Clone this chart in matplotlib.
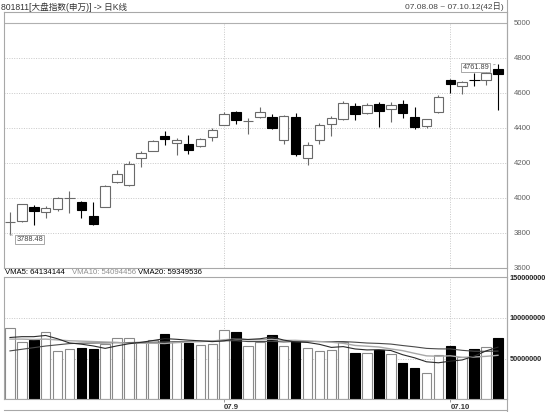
import numpy as np
import matplotlib
matplotlib.use("Agg")
from matplotlib import pyplot as plt

plt.rcParams['font.family'] = ['Liberation Sans', 'Noto Sans CJK SC', 'DejaVu Sans']

# daily candles 07.08.08 - 07.10.12
opens = [3860, 3866, 3947, 3919, 3933, 3996, 3973, 3896, 3947, 4090,
         4071, 4224, 4267, 4353, 4310, 4304, 4296, 4347, 4414, 4487,
         4437, 4462, 4462, 4329, 4462, 4227, 4329, 4418, 4447, 4525,
         4481, 4534, 4506, 4533, 4462, 4409, 4490, 4671, 4639, 4673,
         4671, 4732]
highs = [3919, 3965, 3957, 3951, 4005, 4037, 3982, 3976, 4071, 4157,
         4210, 4266, 4330, 4382, 4342, 4357, 4340, 4395, 4490, 4496,
         4453, 4519, 4479, 4471, 4481, 4319, 4424, 4466, 4550, 4538,
         4538, 4547, 4547, 4557, 4515, 4447, 4584, 4675, 4667, 4710,
         4735, 4761.89]
lows = [3788.48, 3862, 3843, 3881, 3925, 3913, 3885, 3843, 3945, 4081,
        4066, 4173, 4265, 4300, 4243, 4247, 4287, 4325, 4412, 4418,
        4361, 4453, 4390, 4304, 4239, 4186, 4305, 4353, 4445, 4443,
        4478, 4404, 4433, 4456, 4390, 4396, 4485, 4599, 4590, 4637,
        4643, 4500]
closes = [3864, 3961, 3923, 3938, 3995, 3999, 3929, 3847, 4067, 4134,
          4191, 4252, 4325, 4333, 4329, 4271, 4333, 4386, 4475, 4443,
          4440, 4487, 4395, 4467, 4249, 4300, 4414, 4453, 4542, 4477,
          4529, 4494, 4529, 4481, 4404, 4447, 4576, 4647, 4658, 4669,
          4713, 4704]

# volume in millions
volume = [87.1, 69.9, 72.7, 82.9, 59.2, 61.7, 62.5, 61.7, 67.8, 74.8,
          74.8, 70.7, 72.7, 80.1, 70.7, 69.5, 66.6, 67.8, 85.0, 82.9,
          65.8, 70.7, 78.9, 65.8, 71.5, 62.5, 59.2, 60.1, 70.7, 57.2,
          56.4, 60.5, 55.2, 44.9, 38.0, 31.9, 54.5, 65.4, 52.3, 61.3,
          63.8, 74.8]
vma5 = [76.0, 77.0, 77.0, 78.5, 74.4, 69.3, 67.8, 65.6, 62.6, 65.7,
        68.3, 70.0, 72.2, 74.6, 73.8, 72.7, 71.9, 70.9, 71.9, 74.4,
        73.6, 74.4, 76.7, 72.8, 70.5, 69.9, 67.6, 63.8, 64.8, 61.9,
        60.7, 61.0, 60.0, 54.8, 51.0, 46.1, 44.9, 46.9, 48.4, 53.1,
        59.5, 64.1]
vma10 = [74.0, 74.0, 73.5, 74.0, 73.0, 72.0, 71.5, 71.0, 70.5, 70.0,
         68.8, 68.9, 68.9, 68.6, 69.8, 70.5, 70.9, 71.6, 73.3, 74.1,
         73.2, 73.2, 73.8, 72.4, 72.5, 71.8, 71.0, 70.2, 68.8, 66.2,
         65.3, 64.3, 61.9, 59.8, 56.5, 53.4, 52.9, 53.5, 51.6, 52.0,
         52.8, 54.1]
vma20 = [59.5, 61.5, 63.5, 65.5, 67.0, 68.5, 69.0, 69.2, 69.4, 69.6,
         69.8, 70.0, 70.2, 70.5, 70.8, 71.0, 71.3, 71.6, 71.9, 72.1,
         71.0, 71.0, 71.3, 70.5, 71.1, 71.1, 71.0, 70.9, 71.0, 70.2,
         69.2, 68.7, 67.9, 66.1, 64.5, 62.6, 62.0, 61.9, 60.2, 59.1,
         59.0, 59.3]
vma_last = {"VMA5": 64134144, "VMA10": 54094456, "VMA20": 59349536}

month_idx = [18, 37]
month_labels = ["07.9", "07.10"]
price_ticks = [3600, 3800, 4000, 4200, 4400, 4600, 4800, 5000]
vol_ticks = [50000000, 100000000, 150000000]

W, H = 550, 412
fig = plt.figure(figsize=(5.5, 4.12), dpi=100)


def rect(x0, y0, x1, y1):
    return [x0 / W, 1 - y1 / H, (x1 - x0) / W, (y1 - y0) / H]


axp = fig.add_axes(rect(4, 12.3, 507, 267.5))
axv = fig.add_axes(rect(4, 277.3, 507, 399.3))

n = len(opens)
x = np.arange(n)
up = [c >= o for o, c in zip(opens, closes)]
grey_edge = '#6a6a6a'

# ---- price panel
for i in range(n):
    ec = grey_edge if up[i] else 'black'
    axp.vlines(x[i], lows[i], highs[i], color=ec, lw=0.8, zorder=2)
    body = abs(closes[i] - opens[i])
    if body < 6:
        axp.hlines((opens[i] + closes[i]) / 2, x[i] - 0.45, x[i] + 0.45,
                   color=ec, lw=0.8, zorder=3)
    else:
        axp.bar(x[i], body, bottom=min(opens[i], closes[i]), width=0.8,
                facecolor='white' if up[i] else 'black', edgecolor=ec,
                lw=0.8, zorder=3)

axp.set_xlim(-0.5, 41.76)
axp.set_ylim(3600, 3600 + 255.2 * 200 / 35)
for t in price_ticks[1:-1]:
    axp.axhline(t, color='#c8c8c8', lw=0.7, ls=(0, (1, 1.5)), zorder=0)
axp.axhline(5000, color='#b0b0b0', lw=0.8, zorder=0)
axp.vlines(month_idx, 3600, 5000, color='#c8c8c8', lw=0.7,
           ls=(0, (1, 1.5)), zorder=0)
axp.yaxis.tick_right()
axp.set_yticks(price_ticks)
axp.set_yticklabels([str(t) for t in price_ticks], fontsize=5.6, color='#606060')
axp.tick_params(axis='y', length=0, pad=5)
axp.set_xticks([])
for s in axp.spines.values():
    s.set_color('#a8a8a8')
    s.set_linewidth(0.8)

imax = int(np.argmax(highs))
imin = int(np.argmin(lows))
box = dict(boxstyle='square,pad=0.15', fc='white', ec='#9a9a9a', lw=0.6)
axp.annotate(f"{highs[imax]:.2f}", xy=(x[imax], highs[imax]),
             xytext=(-22, -3), textcoords='offset pixels', ha='center',
             va='center', fontsize=5.3, color='#444444', bbox=box,
             arrowprops=dict(arrowstyle='-', color='#9a9a9a', lw=0.6))
axp.annotate(f"{lows[imin]:.2f}", xy=(x[imin], lows[imin]),
             xytext=(20, -5), textcoords='offset pixels', ha='center',
             va='center', fontsize=5.3, color='#444444', bbox=box,
             arrowprops=dict(arrowstyle='-', color='#9a9a9a', lw=0.6))

# ---- volume panel
vol = np.array(volume) * 1e6
axv.bar(x, vol, width=0.8,
        color=['white' if u else 'black' for u in up],
        edgecolor=['#8a8a8a' if u else 'black' for u in up], lw=0.8, zorder=2)
axv.plot(x, np.array(vma20) * 1e6, color='#4a4a4a', lw=0.8, zorder=3)
axv.plot(x, np.array(vma10) * 1e6, color='#a8a8a8', lw=1.0, zorder=3)
axv.plot(x, np.array(vma5) * 1e6, color='#2a2a2a', lw=0.8, zorder=3)
axv.set_xlim(-0.5, 41.76)
axv.set_ylim(0, 150000000)
for t in vol_ticks[:-1]:
    axv.axhline(t, color='#c8c8c8', lw=0.7, ls=(0, (1, 1.5)), zorder=0)
axv.vlines(month_idx, 0, 150000000, color='#c8c8c8', lw=0.7,
           ls=(0, (1, 1.5)), zorder=0)
axv.yaxis.tick_right()
axv.set_yticks(vol_ticks)
axv.set_yticklabels([str(t) for t in vol_ticks], fontsize=5.2,
                    fontweight='bold', color='#222222')
axv.tick_params(axis='y', length=0, pad=2)
axv.set_xticks(month_idx)
axv.set_xticklabels(month_labels, fontsize=5.6, fontweight='bold',
                    color='#333333', ha='left')
axv.tick_params(axis='x', length=2.5, width=0.6, color='#888888', pad=1)
for s in axv.spines.values():
    s.set_color('#a8a8a8')
    s.set_linewidth(0.8)

# ---- header and labels
fig.text(1 / W, 1 - 7 / H, "801811[大盘指数(申万)] -> 日K线", fontsize=6.2,
         color='#333333', va='center', ha='left')
fig.text(504 / W, 1 - 7 / H, "07.08.08 ~ 07.10.12(42日)", fontsize=6,
         color='#444444', va='center', ha='right')
fig.text(5 / W, 1 - 272.5 / H, f"VMA5: {vma_last['VMA5']}", fontsize=5.6,
         color='black', va='center')
fig.text(72 / W, 1 - 272.5 / H, f"VMA10: {vma_last['VMA10']}", fontsize=5.6,
         color='#909090', va='center')
fig.text(138 / W, 1 - 272.5 / H, f"VMA20: {vma_last['VMA20']}", fontsize=5.6,
         color='black', va='center')

fig.add_artist(plt.Line2D([507 / W, 507 / W], [0, 1], color='#a8a8a8', lw=0.8))
fig.add_artist(plt.Line2D([4 / W, 507 / W], [1 - 410 / H, 1 - 410 / H],
                          color='#a8a8a8', lw=0.8))

fig.savefig("out.png", dpi=100)
